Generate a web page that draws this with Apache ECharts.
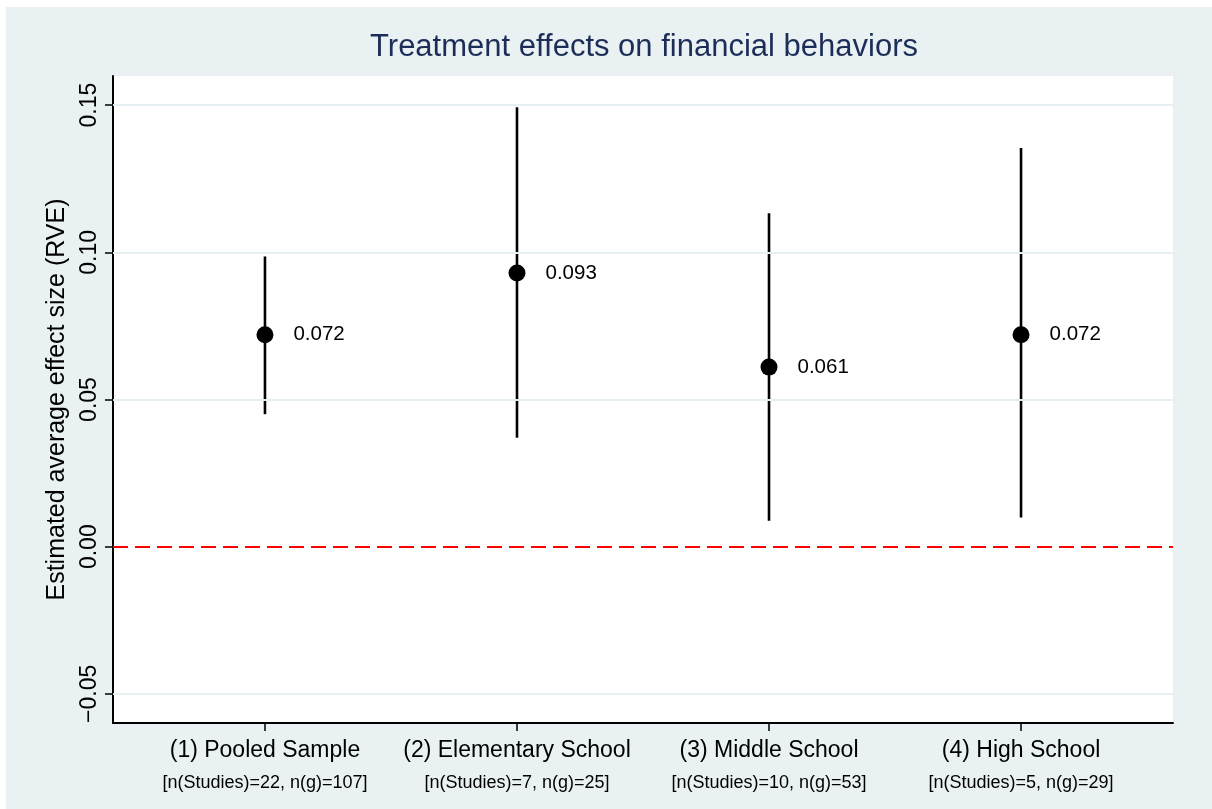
<!DOCTYPE html>
<html>
<head>
<meta charset="utf-8">
<script src="https://cdn.jsdelivr.net/npm/echarts@6/dist/echarts.min.js"></script>
<style>
html,body{margin:0;padding:0;background:#ffffff;}
#chart{width:1212px;height:809px;}
</style>
</head>
<body>
<div id="chart"></div>
<script>
// ---- data ----
const categories = ['(1) Pooled Sample', '(2) Elementary School', '(3) Middle School', '(4) High School'];
const subLabels = ['[n(Studies)=22, n(g)=107]', '[n(Studies)=7, n(g)=25]', '[n(Studies)=10, n(g)=53]', '[n(Studies)=5, n(g)=29]'];
const estimates = [0.072, 0.093, 0.061, 0.072];
const ciLower = [0.045, 0.037, 0.0088, 0.0099];
const ciUpper = [0.0986, 0.1493, 0.1133, 0.1354];
const yTicks = [-0.05, 0, 0.05, 0.10, 0.15];
const titleText = 'Treatment effects on financial behaviors';
const yTitle = 'Estimated average effect size (RVE)';

const positions = categories.map((c, i) => i + 1);
const font = '"Liberation Sans", Arial, Helvetica, sans-serif';

const chart = echarts.init(document.getElementById('chart'), null, {renderer: 'canvas'});

const ciData = positions.map((p, i) => [p, ciLower[i], ciUpper[i]]);
const ptData = positions.map((p, i) => [p, estimates[i]]);

const option = {
  backgroundColor: '#ffffff',
  animation: false,
  graphic: [{
    type: 'rect', left: 6, top: 7, z: -10,
    shape: {width: 1206, height: 802},
    style: {fill: '#eaf1f3'}
  }],
  title: {
    text: titleText,
    left: 639, top: 27, textAlign: 'center',
    textStyle: {color: '#1c2e58', fontFamily: font, fontSize: 31, fontWeight: 'normal'}
  },
  grid: {
    left: 113, top: 76, right: 39, bottom: 86,
    show: true, backgroundColor: '#ffffff', borderWidth: 0, containLabel: false
  },
  xAxis: {
    type: 'value', min: 0.397, max: 4.603,
    axisLine: {show: true, onZero: false, lineStyle: {color: '#000', width: 2}},
    axisTick: {show: true, customValues: positions, length: 8, lineStyle: {color: '#000', width: 1.5}},
    axisLabel: {
      customValues: positions, margin: 13, color: '#000', fontFamily: font,
      formatter: v => {
        const i = Math.round(v) - 1;
        return '{a|' + categories[i] + '}\n{b|' + subLabels[i] + '}';
      },
      rich: {
        a: {fontSize: 23, lineHeight: 30, color: '#000', fontFamily: font},
        b: {fontSize: 18, lineHeight: 34, color: '#000', fontFamily: font}
      }
    },
    splitLine: {show: false}
  },
  yAxis: {
    type: 'value', min: -0.0599, max: 0.1599,
    name: yTitle, nameLocation: 'middle', nameGap: 38,
    nameTextStyle: {color: '#000', fontFamily: font, fontSize: 25},
    axisLine: {show: true, onZero: false, lineStyle: {color: '#000', width: 2}},
    axisTick: {show: true, customValues: yTicks, length: 8, lineStyle: {color: '#000', width: 1.5}},
    axisLabel: {
      customValues: yTicks, rotate: 90, margin: 12, color: '#000', fontFamily: font, fontSize: 23,
      formatter: v => {
        const s = Math.abs(v).toFixed(2);
        return (v < -1e-9 ? '\u22120' : '') + (v < -1e-9 ? s.slice(1) : s);
      }
    },
    splitLine: {show: false}
  },
  series: [
    {
      type: 'line', data: [], silent: true, z: 1,
      markLine: {
        silent: true, symbol: ['none', 'none'], label: {show: false}, animation: false,
        lineStyle: {color: '#e6eff1', width: 2, type: 'solid'},
        data: yTicks.filter(v => v !== 0).map(v => ({yAxis: v}))
      }
    },
    {
      type: 'line', data: [], silent: true, z: 2,
      markLine: {
        silent: true, symbol: ['none', 'none'], label: {show: false}, animation: false,
        lineStyle: {color: '#ff0000', width: 2, type: [15, 7]},
        data: [{yAxis: 0}]
      }
    },
    {
      type: 'custom', z: 3,
      data: ciData,
      renderItem: (params, api) => {
        const a = api.coord([api.value(0), api.value(1)]);
        const b = api.coord([api.value(0), api.value(2)]);
        return {type: 'line', shape: {x1: a[0], y1: a[1], x2: b[0], y2: b[1]},
          style: {stroke: '#000', lineWidth: 2.6}};
      }
    },
    {
      type: 'scatter', z: 4,
      data: ptData, symbol: 'circle', symbolSize: 17,
      itemStyle: {color: '#000', opacity: 1},
      label: {
        show: true, position: 'right', distance: 20, color: '#000', fontFamily: font, fontSize: 20.5,
        formatter: p => p.value[1].toFixed(3)
      }
    }
  ]
};
chart.setOption(option);
</script>
</body>
</html>
